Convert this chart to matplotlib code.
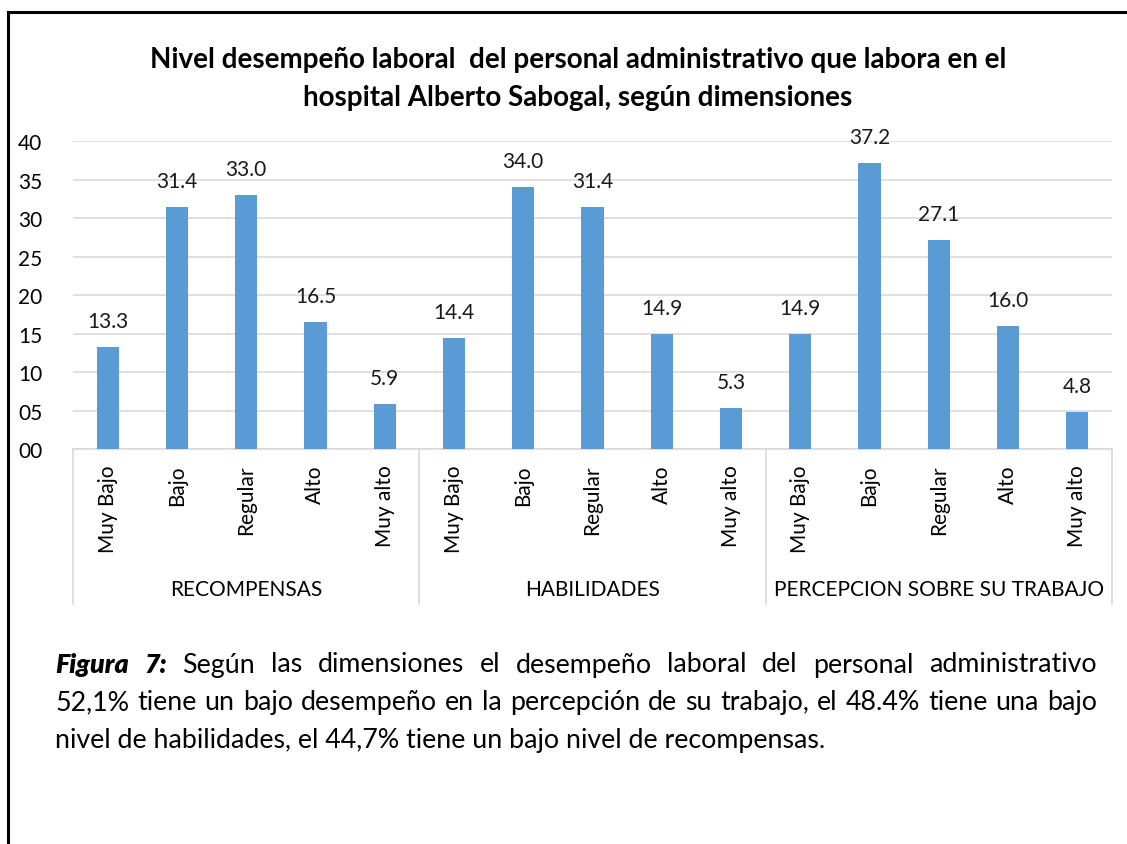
import numpy as np
import matplotlib
matplotlib.use("Agg")
from matplotlib import pyplot as plt
from matplotlib.lines import Line2D

plt.rcParams['font.family'] = ['Lato', 'DejaVu Sans']

# data
niveles = ["Muy Bajo", "Bajo", "Regular", "Alto", "Muy alto"]
dimensiones = ["RECOMPENSAS", "HABILIDADES", "PERCEPCION SOBRE SU TRABAJO"]
recompensas = [13.3, 31.4, 33.0, 16.5, 5.9]
habilidades = [14.4, 34.0, 31.4, 14.9, 5.3]
percepcion = [14.9, 37.2, 27.1, 16.0, 4.8]
yticks = [0, 5, 10, 15, 20, 25, 30, 35, 40]

titulo = "Nivel desempeño laboral  del personal administrativo que labora en el\nhospital Alberto Sabogal, según dimensiones"
caption_l1 = "Según las dimensiones el desempeño laboral del personal administrativo"
caption_l2 = "52,1% tiene un bajo desempeño en la percepción de su trabajo, el 48.4% tiene una bajo"
caption_l3 = "nivel de habilidades, el 44,7% tiene un bajo nivel de recompensas."

W, H = 1127, 845
fig = plt.figure(figsize=(W/100, H/100), dpi=100)
ax = fig.add_axes([73/W, 1-450/H, (1112-73)/W, (450-142)/H])

valores = recompensas + habilidades + percepcion
etiquetas = niveles * 3
x = np.arange(len(valores))
bars = ax.bar(x, valores, width=0.32, color='#5B9BD5', zorder=3)
for xi, v in zip(x, valores):
    ax.annotate("%.1f" % v, (xi, v), xytext=(0, 11.5), textcoords='offset points',
                ha='center', va='bottom', fontsize=15, color='#1a1a1a')

ax.set_xlim(-0.5, len(valores)-0.5)
ax.set_ylim(0, 40)
ax.set_yticks(yticks)
ax.set_yticklabels(["%02d" % t for t in yticks], fontsize=15)
ax.grid(axis='y', color='#D9D9D9', lw=1.2, zorder=0)
ax.set_axisbelow(True)
for s in ['top', 'right', 'left']:
    ax.spines[s].set_visible(False)
ax.spines['bottom'].set_color('#D9D9D9')
ax.spines['bottom'].set_linewidth(1.2)
ax.tick_params(axis='y', length=0, pad=22)
ax.set_xticks(x)
ax.set_xticklabels(etiquetas, rotation=90, fontsize=15)
ax.tick_params(axis='x', length=0, pad=11)

# group separators and labels
trans = ax.get_xaxis_transform()
for b in [-0.5, 4.5, 9.5, 14.5]:
    ax.add_line(Line2D([b, b], [0, -155/308], transform=trans, color='#D9D9D9',
                       lw=1.2, clip_on=False))
for i, d in enumerate(dimensiones):
    ax.text(i*5+2, -140/308, d, transform=trans, ha='center', va='center', fontsize=15)

fig.text(578/W, 1-79/H, titulo, ha='center', va='center', fontsize=20,
         fontweight='bold', linespacing=1.55)

# page border
fig.add_artist(Line2D([8/W, 8/W], [0, 1-13/H], color='black', lw=2.2))
fig.add_artist(Line2D([8/W, 1], [1-13/H, 1-13/H], color='black', lw=2.2))

# caption (justified)
renderer = fig.canvas.get_renderer()
cap_fs = 19.3
x0, x1 = 55, 1097


def justify(tokens, ypix):
    objs = []
    for txt, style in tokens:
        kw = dict(fontsize=cap_fs, va='center', ha='left')
        if style:
            kw.update(fontweight='heavy', fontstyle='italic')
        objs.append(fig.text(0, 1-ypix/H, txt, **kw))
    widths = [o.get_window_extent(renderer).width for o in objs]
    gap = (x1 - x0 - sum(widths)) / (len(objs)-1)
    pos = x0
    for o, w in zip(objs, widths):
        o.set_x(pos/W)
        pos += w + gap


justify([("Figura", True), ("7:", True)] + [(w, False) for w in caption_l1.split()], 665)
justify([(w, False) for w in caption_l2.split()], 703)
fig.text(x0/W, 1-741/H, caption_l3, fontsize=cap_fs, va='center', ha='left')

fig.savefig("out.png", dpi=100)
